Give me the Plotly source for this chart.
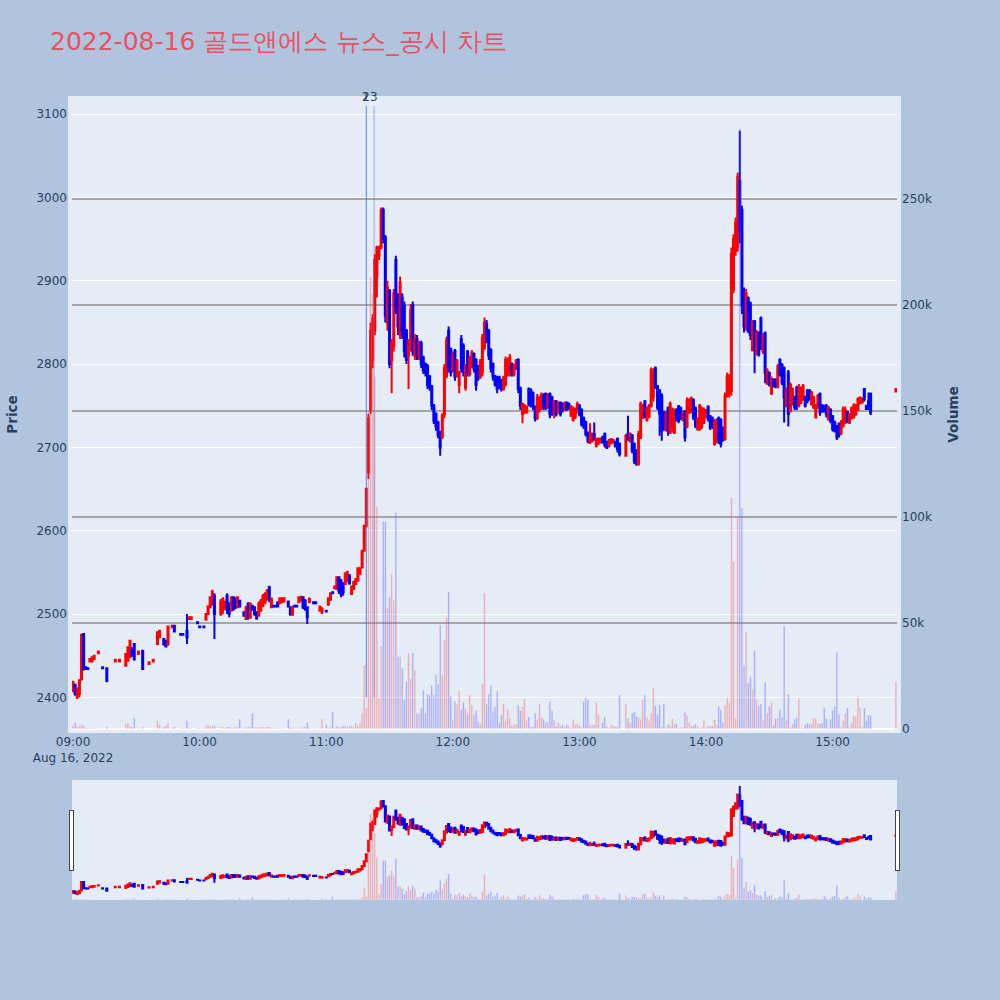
import pandas as pd
import plotly.graph_objects as go

# minute offsets from 09:00 (only minutes that traded)
minute = [
    0, 1, 2, 3, 4, 5, 6, 7, 8, 9,
    10, 12, 14, 16, 20, 22, 25, 26, 27, 28,
    29, 31, 33, 36, 38, 40, 41, 43, 44, 45,
    47, 48, 51, 52, 54, 55, 56, 59, 60, 62,
    63, 64, 65, 66, 67, 70, 71, 72, 73, 74,
    75, 76, 77, 78, 79, 81, 82, 83, 84, 85,
    86, 87, 88, 89, 90, 91, 92, 93, 94, 95,
    96, 97, 98, 99, 100, 102, 103, 104, 105, 106,
    107, 108, 109, 110, 111, 112, 114, 115, 117, 118,
    120, 121, 122, 123, 124, 125, 126, 127, 128, 129,
    130, 131, 132, 133, 134, 135, 136, 137, 138, 139,
] + list(range(140, 260)) + list(range(262, 379)) + [390]

open_ = [
    2408, 2415, 2400, 2404, 2422, 2476, 2436, 2435, 2443, 2443,
    2446, 2453, 2436, 2435, 2443, 2443, 2438, 2444, 2448, 2458,
    2464, 2452, 2456, 2440, 2443, 2464, 2472, 2470, 2468, 2464,
    2484, 2486, 2476, 2476, 2480, 2494, 2494, 2490, 2485, 2485,
    2493, 2500, 2508, 2512, 2522, 2500, 2505, 2508, 2522, 2512,
    2504, 2520, 2518, 2508, 2516, 2502, 2494, 2512, 2496, 2510,
    2508, 2502, 2498, 2504, 2510, 2514, 2518, 2532, 2508, 2510,
    2510, 2514, 2513, 2514, 2515, 2515, 2508, 2499, 2510, 2510,
    2514, 2516, 2520, 2516, 2508, 2514, 2514, 2514, 2504, 2502,
    2504, 2511, 2517, 2526, 2531, 2530, 2544, 2540, 2536, 2536,
    2540, 2546, 2524, 2530, 2536, 2540, 2548, 2556, 2576, 2606,
    2670, 2745, 2805, 2840, 2905, 2930, 2940, 2985, 2952, 2850,
    2888, 2805, 2822, 2925, 2880, 2835, 2880, 2870, 2840, 2810,
    2820, 2870, 2810, 2830, 2808, 2825, 2808, 2800, 2797, 2785,
    2773, 2750, 2740, 2730, 2717, 2713, 2740, 2786, 2840, 2818,
    2793, 2816, 2786, 2775, 2830, 2822, 2772, 2815, 2788, 2798,
    2812, 2805, 2797, 2785, 2790, 2820, 2848, 2840, 2817, 2800,
    2785, 2784, 2784, 2780, 2770, 2776, 2790, 2788, 2800, 2788,
    2794, 2805, 2771, 2740, 2742, 2742, 2770, 2768, 2765, 2749,
    2735, 2745, 2748, 2762, 2764, 2748, 2764, 2760, 2742, 2755,
    2742, 2754, 2752, 2745, 2754, 2752, 2738, 2733, 2736, 2742,
    2750, 2745, 2735, 2730, 2717, 2706, 2708, 2716, 2702, 2705,
    2706, 2712, 2716, 2706, 2702, 2705, 2706, 2706, 2710, 2704,
    2690, 2716, 2708, 2714, 2704, 2696, 2680, 2712, 2736, 2755,
    2733, 2737, 2750, 2760, 2795, 2773, 2768, 2762, 2742, 2721,
    2747, 2718, 2725, 2718, 2745, 2749, 2747, 2733, 2743, 2725,
    2742, 2743, 2757, 2747, 2722, 2722, 2725, 2730, 2737, 2749,
    2737, 2735, 2704, 2707, 2735, 2733, 2722, 2710, 2762, 2765,
    2768, 2890, 2936, 2940, 3020, 2985, 2885, 2845, 2879, 2873,
    2817, 2851, 2813, 2837, 2855, 2815, 2837, 2777, 2789, 2765,
    2781, 2781, 2773, 2805, 2799, 2795, 2750, 2790, 2744, 2752,
    2760, 2772, 2750, 2754, 2758, 2760, 2768, 2768, 2752, 2748,
    2736, 2748, 2764, 2750, 2750, 2750, 2734, 2745, 2737, 2730,
    2725, 2728, 2717, 2726, 2730, 2742, 2730, 2735, 2736, 2740,
    2745, 2753, 2754, 2770, 2750, 2755, 2764, 2767,
]

high = [
    2420, 2416, 2412, 2422, 2476, 2477, 2436, 2435, 2446, 2448,
    2450, 2455, 2436, 2436, 2445, 2445, 2452, 2460, 2469, 2460,
    2465, 2455, 2457, 2442, 2445, 2479, 2481, 2471, 2469, 2486,
    2487, 2487, 2476, 2476, 2500, 2496, 2496, 2490, 2485, 2485,
    2500, 2510, 2521, 2529, 2525, 2518, 2520, 2516, 2525, 2514,
    2521, 2521, 2520, 2521, 2517, 2503, 2510, 2514, 2514, 2511,
    2509, 2503, 2515, 2518, 2524, 2526, 2530, 2534, 2520, 2510,
    2510, 2515, 2520, 2520, 2520, 2516, 2509, 2510, 2510, 2510,
    2521, 2522, 2521, 2518, 2509, 2520, 2514, 2514, 2510, 2508,
    2504, 2520, 2526, 2527, 2533, 2545, 2545, 2542, 2538, 2550,
    2552, 2548, 2534, 2540, 2543, 2556, 2556, 2577, 2607, 2652,
    2740, 2850, 2860, 2932, 2942, 2942, 2988, 2988, 2955, 2900,
    2890, 2830, 2890, 2930, 2885, 2905, 2885, 2875, 2842, 2830,
    2872, 2875, 2836, 2835, 2828, 2828, 2810, 2802, 2800, 2787,
    2775, 2752, 2742, 2732, 2720, 2741, 2800, 2833, 2845, 2820,
    2815, 2818, 2806, 2792, 2835, 2825, 2800, 2817, 2810, 2817,
    2814, 2807, 2799, 2806, 2836, 2856, 2853, 2842, 2819, 2802,
    2787, 2786, 2786, 2782, 2786, 2809, 2808, 2812, 2802, 2800,
    2806, 2807, 2773, 2754, 2752, 2750, 2772, 2771, 2767, 2750,
    2764, 2762, 2766, 2765, 2766, 2765, 2766, 2762, 2757, 2757,
    2755, 2755, 2754, 2755, 2755, 2754, 2751, 2749, 2748, 2755,
    2752, 2747, 2737, 2732, 2719, 2729, 2718, 2730, 2712, 2712,
    2712, 2714, 2718, 2708, 2710, 2711, 2710, 2708, 2712, 2706,
    2716, 2738, 2718, 2716, 2706, 2698, 2720, 2755, 2752, 2757,
    2749, 2752, 2796, 2795, 2797, 2775, 2770, 2765, 2744, 2743,
    2749, 2755, 2748, 2747, 2747, 2751, 2749, 2743, 2745, 2760,
    2759, 2761, 2759, 2749, 2736, 2752, 2749, 2748, 2746, 2750,
    2739, 2737, 2734, 2735, 2737, 2735, 2725, 2766, 2790, 2788,
    2940, 2956, 2976, 3030, 3080, 2990, 2892, 2890, 2881, 2875,
    2853, 2853, 2841, 2839, 2857, 2837, 2839, 2795, 2791, 2785,
    2783, 2783, 2800, 2807, 2801, 2797, 2772, 2793, 2778, 2772,
    2762, 2774, 2776, 2773, 2776, 2762, 2770, 2770, 2768, 2762,
    2752, 2764, 2766, 2752, 2751, 2752, 2750, 2747, 2739, 2732,
    2727, 2730, 2733, 2749, 2749, 2744, 2741, 2749, 2753, 2752,
    2760, 2761, 2760, 2771, 2751, 2766, 2766, 2771,
]

low = [
    2406, 2402, 2398, 2400, 2420, 2432, 2433, 2434, 2443, 2442,
    2446, 2453, 2435, 2418, 2443, 2443, 2437, 2443, 2447, 2449,
    2444, 2452, 2433, 2440, 2443, 2463, 2471, 2462, 2460, 2462,
    2484, 2478, 2475, 2475, 2464, 2494, 2494, 2489, 2484, 2484,
    2492, 2499, 2507, 2510, 2470, 2498, 2500, 2505, 2500, 2496,
    2503, 2504, 2506, 2507, 2508, 2497, 2493, 2493, 2494, 2504,
    2498, 2493, 2497, 2503, 2508, 2512, 2516, 2514, 2507, 2509,
    2509, 2508, 2512, 2513, 2514, 2508, 2498, 2498, 2509, 2509,
    2513, 2515, 2506, 2504, 2488, 2513, 2513, 2513, 2503, 2500,
    2503, 2510, 2516, 2524, 2531, 2529, 2524, 2520, 2522, 2535,
    2538, 2535, 2523, 2529, 2535, 2539, 2547, 2555, 2575, 2604,
    2662, 2740, 2795, 2835, 2880, 2925, 2938, 2945, 2850, 2840,
    2795, 2765, 2815, 2860, 2835, 2830, 2830, 2808, 2800, 2770,
    2815, 2810, 2805, 2805, 2805, 2795, 2788, 2785, 2770, 2768,
    2745, 2728, 2720, 2711, 2690, 2710, 2735, 2783, 2790, 2785,
    2790, 2780, 2784, 2765, 2790, 2785, 2768, 2785, 2785, 2795,
    2790, 2768, 2780, 2782, 2785, 2817, 2825, 2805, 2790, 2780,
    2773, 2765, 2770, 2767, 2768, 2773, 2785, 2785, 2785, 2785,
    2793, 2765, 2745, 2729, 2740, 2741, 2749, 2748, 2745, 2731,
    2733, 2742, 2745, 2745, 2745, 2746, 2735, 2738, 2735, 2737,
    2741, 2737, 2742, 2744, 2744, 2745, 2737, 2731, 2734, 2741,
    2737, 2725, 2722, 2713, 2705, 2704, 2706, 2708, 2700, 2703,
    2705, 2705, 2700, 2698, 2700, 2704, 2705, 2700, 2694, 2689,
    2689, 2708, 2706, 2693, 2680, 2678, 2678, 2710, 2734, 2735,
    2731, 2735, 2748, 2755, 2770, 2745, 2714, 2708, 2720, 2719,
    2714, 2716, 2718, 2716, 2731, 2729, 2733, 2731, 2707, 2723,
    2740, 2741, 2733, 2723, 2720, 2720, 2722, 2728, 2735, 2731,
    2721, 2722, 2702, 2705, 2704, 2700, 2707, 2708, 2760, 2760,
    2762, 2885, 2930, 2935, 2945, 2860, 2838, 2840, 2837, 2829,
    2815, 2789, 2810, 2809, 2817, 2812, 2777, 2775, 2773, 2763,
    2772, 2771, 2771, 2785, 2775, 2730, 2748, 2725, 2742, 2750,
    2745, 2745, 2748, 2752, 2756, 2748, 2753, 2756, 2750, 2746,
    2735, 2746, 2738, 2742, 2742, 2736, 2732, 2729, 2719, 2718,
    2709, 2712, 2715, 2724, 2728, 2729, 2728, 2734, 2735, 2738,
    2744, 2752, 2753, 2755, 2745, 2745, 2739, 2767,
]

close = [
    2418, 2404, 2410, 2420, 2475, 2436, 2434, 2434, 2446, 2448,
    2450, 2455, 2435, 2420, 2445, 2445, 2452, 2460, 2468, 2450,
    2446, 2455, 2434, 2442, 2445, 2478, 2480, 2464, 2461, 2485,
    2486, 2479, 2475, 2475, 2472, 2496, 2496, 2489, 2484, 2484,
    2500, 2509, 2520, 2527, 2500, 2515, 2518, 2512, 2505, 2500,
    2520, 2506, 2508, 2520, 2509, 2498, 2508, 2496, 2512, 2506,
    2500, 2495, 2512, 2516, 2522, 2524, 2528, 2518, 2518, 2509,
    2509, 2509, 2519, 2518, 2519, 2509, 2500, 2508, 2509, 2509,
    2520, 2520, 2508, 2506, 2496, 2518, 2513, 2513, 2509, 2506,
    2503, 2519, 2525, 2525, 2533, 2544, 2528, 2524, 2526, 2549,
    2550, 2537, 2533, 2538, 2542, 2555, 2555, 2576, 2606, 2650,
    2735, 2840, 2855, 2925, 2940, 2938, 2984, 2950, 2858, 2892,
    2800, 2825, 2885, 2870, 2845, 2898, 2840, 2815, 2805, 2825,
    2865, 2815, 2830, 2810, 2825, 2800, 2792, 2790, 2775, 2772,
    2750, 2732, 2725, 2715, 2700, 2738, 2795, 2828, 2795, 2790,
    2812, 2785, 2804, 2790, 2795, 2790, 2798, 2790, 2806, 2814,
    2794, 2775, 2783, 2803, 2832, 2850, 2830, 2810, 2795, 2785,
    2776, 2770, 2774, 2770, 2784, 2805, 2800, 2808, 2790, 2798,
    2804, 2770, 2750, 2752, 2750, 2749, 2752, 2752, 2750, 2735,
    2760, 2758, 2763, 2750, 2748, 2762, 2740, 2742, 2755, 2740,
    2753, 2740, 2745, 2753, 2746, 2748, 2749, 2746, 2745, 2752,
    2740, 2728, 2725, 2716, 2708, 2712, 2716, 2710, 2710, 2710,
    2710, 2706, 2703, 2700, 2708, 2710, 2709, 2701, 2698, 2692,
    2714, 2710, 2716, 2696, 2684, 2680, 2716, 2752, 2750, 2738,
    2746, 2750, 2793, 2790, 2772, 2748, 2740, 2720, 2725, 2740,
    2720, 2752, 2745, 2744, 2733, 2732, 2736, 2741, 2712, 2756,
    2757, 2759, 2736, 2726, 2734, 2750, 2746, 2745, 2745, 2734,
    2724, 2725, 2730, 2732, 2708, 2704, 2710, 2762, 2785, 2780,
    2932, 2950, 2970, 3025, 2960, 2870, 2845, 2885, 2840, 2835,
    2850, 2820, 2838, 2812, 2820, 2835, 2790, 2792, 2776, 2782,
    2774, 2773, 2797, 2790, 2778, 2760, 2768, 2740, 2775, 2770,
    2748, 2750, 2772, 2770, 2774, 2750, 2756, 2758, 2766, 2760,
    2750, 2762, 2742, 2744, 2743, 2740, 2748, 2732, 2722, 2720,
    2712, 2715, 2730, 2746, 2745, 2732, 2740, 2747, 2750, 2750,
    2758, 2760, 2758, 2758, 2746, 2750, 2742, 2770,
]

volume = [
    1500, 3000, 1000, 1500, 2000, 1500, 500, 500, 300, 500,
    500, 300, 300, 1000, 300, 300, 2500, 2800, 1500, 1000,
    5000, 500, 1000, 300, 300, 4000, 2000, 1000, 1500, 3000,
    500, 1000, 500, 500, 4000, 500, 500, 500, 500, 500,
    1500, 2000, 1500, 1500, 1500, 1000, 1000, 500, 1000, 1000,
    800, 600, 800, 1000, 4700, 500, 800, 1000, 1200, 7500,
    800, 600, 800, 1000, 1000, 800, 1000, 1000, 500, 300,
    300, 500, 500, 500, 500, 4700, 800, 600, 300, 300,
    500, 500, 800, 1000, 3000, 500, 300, 300, 800, 4700,
    2000, 500, 1000, 8000, 500, 1500, 1000, 1000, 1500, 1500,
    1000, 1500, 1500, 1000, 2800, 1500, 3000, 7500, 30000, 10000,
    150000, 213000, 205000, 166000, 105000, 15000, 39000, 98000, 98000, 57000,
    62000, 73000, 61000, 102000, 34000, 34000, 28600, 13700, 22300, 35700,
    23700, 35700, 27800, 7400, 7100, 9800, 18400, 7400, 16500, 16000,
    20400, 16000, 25800, 21200, 49000, 25500, 42000, 52700, 64800, 15500,
    4000, 13200, 11800, 17900, 9300, 12600, 9800, 7100, 16000, 11300,
    6600, 8700, 3500, 2400, 21200, 64000, 11800, 16500, 20400, 8200,
    10500, 17900, 2800, 6600, 11800, 4000, 9300, 5000, 1500, 2400,
    2400, 11300, 8700, 10500, 14400, 4000, 5800, 1100, 1100, 7400,
    4600, 11800, 5500, 4600, 3100, 3500, 12900, 8700, 4300, 1100,
    3100, 1100, 2000, 1100, 2000, 1100, 500, 4600, 2400, 2400,
    1500, 500, 12900, 14900, 13900, 2000, 2000, 2000, 12600, 7100,
    500, 3100, 5800, 1100, 500, 2000, 1700, 1100, 1100, 16000,
    11800, 5000, 2800, 7400, 8200, 6100, 5500, 4600, 13700, 16000,
    5500, 4000, 7500, 19500, 11000, 7000, 11300, 1100, 11800, 800,
    2200, 1500, 5000, 2500, 2500, 500, 800, 1000, 7900, 6300,
    3100, 1500, 1600, 2400, 1100, 500, 1000, 4000, 1100, 1400,
    1400, 1400, 4400, 2000, 10700, 9100, 3000, 11300, 14900, 12400,
    109000, 79000, 5000, 100000, 283000, 104000, 30000, 45900, 21600, 24500,
    18700, 36900, 13700, 11000, 11800, 4000, 22000, 7500, 10700, 12700,
    1600, 5000, 5000, 9100, 5700, 48700, 4200, 16500, 1000, 2400,
    4600, 5500, 14500, 800, 500, 2200, 2800, 2200, 2500, 5000,
    5000, 2500, 2500, 2800, 10000, 5000, 800, 4600, 8800, 10700,
    36200, 6900, 800, 4200, 7500, 9900, 800, 2800, 6300, 5800,
    14900, 10200, 1000, 9900, 3900, 6500, 6300, 22300,
]

# news / disclosure markers
news_times = ["2022-08-16 11:19:00", "2022-08-16 11:19:00", "2022-08-16 11:22:40"]
news_labels = ["1", "2", "3"]

times = pd.Timestamp("2022-08-16 09:00") + pd.to_timedelta(minute, unit="min")
bar_colors = ["red" if c > o else "blue" for o, c in zip(open_, close)]

fig = go.Figure()

fig.add_trace(go.Candlestick(
    x=times, open=open_, high=high, low=low, close=close,
    increasing=dict(line=dict(color="red"), fillcolor="red"),
    decreasing=dict(line=dict(color="blue"), fillcolor="blue"),
    name="Price",
))

fig.add_trace(go.Bar(
    x=times, y=volume, marker_color=bar_colors, opacity=0.3,
    yaxis="y2", name="Volume",
))

for t, label in zip(news_times, news_labels):
    fig.add_shape(type="line", x0=t, x1=t, y0=2400, y1=3110, xref="x", yref="y",
                  line=dict(color="royalblue", width=1), opacity=0.5)
    fig.add_annotation(x=t, y=3110, text=label, showarrow=False,
                       xref="x", yref="y", yanchor="bottom")

fig.update_layout(
    width=1000, height=1000,
    font=dict(family="DejaVu Sans"),
    title=dict(text="2022-08-16 골드앤에스 뉴스_공시 차트", x=0.05, y=0.959,
               yanchor="middle", font=dict(size=25, color="rgb(235,80,100)")),
    paper_bgcolor="lightsteelblue",
    margin=dict(l=72, r=103, t=100, b=100, pad=4),
    showlegend=False,
    xaxis=dict(rangeslider=dict(visible=True)),
    yaxis=dict(title=dict(text="<b>Price</b>", font=dict(size=13.5), standoff=19),
               range=[2362, 3117], automargin=False),
    yaxis2=dict(title=dict(text="<b>Volume</b>", font=dict(size=13.5), standoff=21),
                overlaying="y", side="right", range=[0, 296500], automargin=False,
                showgrid=True, gridcolor="#a6a6a6", gridwidth=1.5),
)

# page without the default body margin so the figure sits at the window corner
fig.write_html("out.html", config={"displayModeBar": False},
               post_script="document.body.style.margin = '0';")
